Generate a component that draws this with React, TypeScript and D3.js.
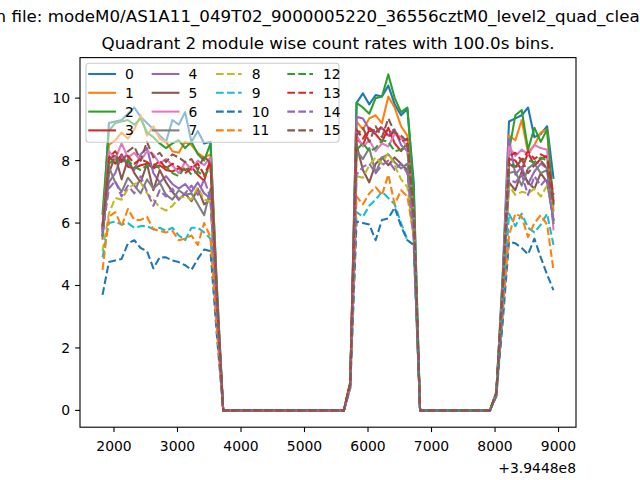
import React from 'react';
import * as d3 from 'd3';

const times = [
  1820, 1920, 2020, 2120, 2220, 2320, 2420, 2520, 2620, 2720, 2820, 2920, 3020, 3120, 3220, 3320, 3420, 3520, 3620,
  3720, 3820, 3920, 4020, 4120, 4220, 4320, 4420, 4520, 4620, 4720, 4820, 4920, 5020, 5120, 5220, 5320, 5420, 5520, 5620,
  5720, 5820, 5920, 6020, 6120, 6220, 6320, 6420, 6520, 6620, 6720,
  6820, 6920, 7020, 7120, 7220, 7320, 7420, 7520, 7620, 7720, 7820, 7920,
  8020, 8120, 8220, 8320, 8420, 8520, 8620, 8720, 8820, 8920,
];

const m0 = [5.8, 9.2, 9.25, 9.3, 9.5, 9.7, 9.4, 9.2, 9.0, 8.8, 8.6, 9.3, 9.15, 9.55, 8.6, 8.95, 8.55, 8.6, 3.9, 0,0,0,0,0,0,0,0,0,0,0,0,0,0,0,0,0,0,0,0, 0.85, 9.85, 10.15, 9.8, 10.1, 10.05, 10.4, 9.8, 9.45, 9.65, 7.3, 0,0,0,0,0,0,0,0,0,0,0,0, 0.55, 4.3, 9.25, 9.35, 9.45, 9.7, 8.75, 8.85, 9.1, 7.45];
const m1 = [5.9, 8.5, 8.65, 8.9, 8.7, 9.0, 9.45, 8.8, 9.1, 8.7, 8.6, 8.3, 8.25, 8.6, 8.5, 8.25, 8.1, 8.2, 3.7, 0,0,0,0,0,0,0,0,0,0,0,0,0,0,0,0,0,0,0,0, 0.9, 9.25, 9.0, 9.35, 9.45, 9.2, 10.05, 9.7, 9.1, 8.8, 6.5, 0,0,0,0,0,0,0,0,0,0,0,0, 0.6, 4.0, 8.8, 8.65, 9.3, 8.25, 8.5, 8.9, 9.0, 6.4];
const m2 = [6.3, 8.95, 9.2, 9.25, 9.3, 9.15, 9.35, 8.9, 8.75, 8.55, 8.4, 8.55, 8.65, 8.4, 8.6, 8.2, 8.0, 8.55, 4.0, 0,0,0,0,0,0,0,0,0,0,0,0,0,0,0,0,0,0,0,0, 0.85, 9.85, 9.7, 9.5, 10.0, 10.05, 10.76, 10.0, 9.55, 9.7, 7.05, 0,0,0,0,0,0,0,0,0,0,0,0, 0.55, 4.2, 8.3, 9.45, 9.62, 8.35, 9.05, 8.6, 9.0, 6.6];
const m3 = [5.6, 8.15, 7.9, 8.2, 7.8, 7.75, 7.85, 7.9, 7.75, 7.85, 7.7, 7.65, 7.75, 7.7, 7.8, 7.55, 7.35, 8.05, 3.5, 0,0,0,0,0,0,0,0,0,0,0,0,0,0,0,0,0,0,0,0, 0.85, 8.7, 8.5, 9.0, 8.85, 8.6, 9.05, 8.55, 8.3, 8.55, 6.2, 0,0,0,0,0,0,0,0,0,0,0,0, 0.55, 3.7, 8.05, 8.0, 7.7, 8.25, 7.85, 8.05, 8.15, 6.7];
const m4 = [5.9, 7.3, 7.6, 8.15, 7.9, 7.7, 8.2, 8.4, 7.6, 7.3, 7.5, 7.25, 7.1, 7.25, 7.0, 7.3, 6.95, 6.8, 3.4, 0,0,0,0,0,0,0,0,0,0,0,0,0,0,0,0,0,0,0,0, 0.85, 9.4, 9.35, 9.0, 8.9, 9.05, 8.8, 9.0, 8.5, 8.3, 6.0, 0,0,0,0,0,0,0,0,0,0,0,0, 0.55, 4.0, 8.7, 7.55, 7.8, 7.25, 7.65, 7.9, 7.75, 6.1];
const m5 = [5.6, 7.6, 8.15, 7.4, 8.05, 7.6, 7.3, 7.9, 7.05, 7.7, 7.3, 7.0, 6.75, 6.95, 6.7, 7.1, 6.6, 6.75, 3.3, 0,0,0,0,0,0,0,0,0,0,0,0,0,0,0,0,0,0,0,0, 0.8, 8.5, 7.7, 7.3, 7.9, 8.1, 7.85, 8.1, 7.9, 7.7, 5.8, 0,0,0,0,0,0,0,0,0,0,0,0, 0.5, 3.6, 7.3, 7.05, 7.65, 7.3, 7.1, 7.6, 7.3, 6.1];
const m6 = [5.9, 8.3, 8.05, 8.55, 8.1, 8.25, 8.0, 8.3, 8.2, 7.9, 8.05, 7.85, 7.6, 7.95, 7.7, 8.0, 7.85, 8.1, 3.6, 0,0,0,0,0,0,0,0,0,0,0,0,0,0,0,0,0,0,0,0, 0.85, 8.8, 8.45, 8.65, 8.3, 8.55, 8.45, 8.85, 8.75, 8.4, 6.3, 0,0,0,0,0,0,0,0,0,0,0,0, 0.55, 3.9, 8.45, 8.15, 8.35, 8.2, 8.5, 8.4, 8.35, 5.8];
const m7 = [5.5, 7.8, 7.3, 7.0, 7.45, 7.2, 6.95, 7.4, 7.1, 7.3, 6.9, 6.75, 7.05, 6.9, 6.95, 6.6, 6.25, 7.1, 3.2, 0,0,0,0,0,0,0,0,0,0,0,0,0,0,0,0,0,0,0,0, 0.8, 8.3, 8.05, 8.4, 7.6, 8.1, 8.2, 7.95, 7.75, 7.9, 5.6, 0,0,0,0,0,0,0,0,0,0,0,0, 0.5, 3.5, 7.6, 7.65, 7.2, 7.75, 7.9, 7.6, 7.7, 6.0];
const m8 = [5.1, 6.3, 6.8, 6.75, 7.1, 7.25, 7.3, 6.95, 6.75, 6.5, 6.4, 6.55, 6.8, 6.85, 6.75, 7.15, 6.75, 6.7, 3.0, 0,0,0,0,0,0,0,0,0,0,0,0,0,0,0,0,0,0,0,0, 0.75, 7.5, 7.45, 7.85, 8.1, 7.9, 8.25, 7.85, 7.4, 7.15, 5.5, 0,0,0,0,0,0,0,0,0,0,0,0, 0.5, 3.4, 7.2, 6.9, 7.0, 6.95, 7.1, 6.85, 7.2, 6.35];
const m9 = [4.9, 6.0, 6.05, 5.95, 6.0, 5.85, 5.9, 5.9, 5.8, 5.85, 5.75, 5.85, 5.6, 5.45, 5.85, 5.85, 5.7, 5.5, 2.7, 0,0,0,0,0,0,0,0,0,0,0,0,0,0,0,0,0,0,0,0, 0.7, 6.35, 6.2, 6.55, 6.75, 7.0, 6.8, 6.6, 6.0, 5.45, 5.3, 0,0,0,0,0,0,0,0,0,0,0,0, 0.45, 3.0, 6.3, 5.9, 6.3, 5.85, 5.7, 5.95, 6.3, 5.3];
const m10 = [3.7, 4.75, 4.8, 4.85, 5.35, 5.45, 5.2, 5.1, 4.55, 4.9, 4.9, 4.8, 4.75, 4.65, 4.5, 4.85, 5.15, 5.1, 2.4, 0,0,0,0,0,0,0,0,0,0,0,0,0,0,0,0,0,0,0,0, 0.7, 6.05, 6.0, 5.95, 5.45, 6.1, 6.15, 6.5, 5.9, 5.45, 5.3, 0,0,0,0,0,0,0,0,0,0,0,0, 0.45, 2.8, 5.4, 5.35, 5.2, 5.0, 5.5, 4.9, 4.35, 3.85];
const m11 = [4.5, 6.2, 6.35, 5.9, 6.45, 6.1, 6.1, 6.2, 5.8, 5.75, 5.7, 5.75, 5.45, 5.5, 5.6, 5.3, 6.0, 5.55, 2.6, 0,0,0,0,0,0,0,0,0,0,0,0,0,0,0,0,0,0,0,0, 0.75, 6.85, 6.6, 6.95, 7.15, 6.9, 7.55, 6.6, 7.05, 6.85, 5.6, 0,0,0,0,0,0,0,0,0,0,0,0, 0.5, 3.2, 5.6, 6.3, 6.2, 5.55, 6.0, 6.25, 5.95, 4.5];
const m12 = [5.7, 7.9, 8.05, 7.95, 8.0, 7.8, 7.7, 7.85, 7.9, 7.75, 7.8, 7.6, 7.5, 7.8, 7.55, 7.65, 7.5, 7.8, 3.5, 0,0,0,0,0,0,0,0,0,0,0,0,0,0,0,0,0,0,0,0, 0.85, 8.35, 8.55, 8.3, 8.4, 8.65, 8.6, 8.3, 8.35, 8.5, 6.1, 0,0,0,0,0,0,0,0,0,0,0,0, 0.55, 3.8, 8.0, 7.8, 8.05, 8.0, 7.95, 8.1, 8.0, 6.8];
const m13 = [5.8, 8.1, 8.3, 8.0, 8.15, 7.9, 8.05, 7.95, 7.8, 8.0, 7.75, 7.9, 7.8, 7.6, 7.75, 7.9, 7.55, 7.95, 3.6, 0,0,0,0,0,0,0,0,0,0,0,0,0,0,0,0,0,0,0,0, 0.9, 9.0, 8.7, 9.05, 8.9, 9.1, 8.75, 8.95, 8.6, 8.7, 6.3, 0,0,0,0,0,0,0,0,0,0,0,0, 0.55, 3.8, 8.15, 8.25, 8.0, 8.3, 8.05, 8.2, 8.1, 6.9];
const m14 = [5.7, 7.1, 7.35, 6.85, 7.2, 6.95, 7.5, 7.0, 6.55, 7.05, 6.85, 7.1, 6.75, 6.95, 7.2, 6.9, 7.4, 6.8, 3.2, 0,0,0,0,0,0,0,0,0,0,0,0,0,0,0,0,0,0,0,0, 0.8, 7.55, 7.8, 7.9, 7.6, 7.85, 8.0, 7.7, 7.9, 7.6, 5.5, 0,0,0,0,0,0,0,0,0,0,0,0, 0.5, 3.5, 7.4, 7.3, 7.55, 6.9, 7.5, 7.2, 7.45, 6.0];
const m15 = [5.9, 8.0, 8.2, 7.9, 8.3, 8.45, 8.0, 8.6, 8.1, 8.25, 7.95, 8.2, 8.1, 7.95, 8.05, 7.7, 8.15, 7.9, 3.7, 0,0,0,0,0,0,0,0,0,0,0,0,0,0,0,0,0,0,0,0, 0.9, 8.8, 9.05, 8.6, 9.1, 8.75, 9.35, 8.9, 8.8, 8.6, 6.4, 0,0,0,0,0,0,0,0,0,0,0,0, 0.55, 3.9, 7.9, 7.75, 8.05, 7.6, 7.85, 8.0, 7.75, 6.6];

const moduleSeries = [m0, m1, m2, m3, m4, m5, m6, m7, m8, m9, m10, m11, m12, m13, m14, m15];
const moduleLabels = ['0', '1', '2', '3', '4', '5', '6', '7', '8', '9', '10', '11', '12', '13', '14', '15'];
const moduleColors = ['#1f77b4', '#ff7f0e', '#2ca02c', '#d62728', '#9467bd', '#8c564b', '#e377c2', '#7f7f7f',
  '#bcbd22', '#17becf', '#1f77b4', '#ff7f0e', '#2ca02c', '#d62728', '#9467bd', '#8c564b'];
const moduleDashed = [false, false, false, false, false, false, false, false, true, true, true, true, true, true, true, true];

const xTicks = [2000, 3000, 4000, 5000, 6000, 7000, 8000, 9000];
const yTicks = [0, 2, 4, 6, 8, 10];
const offsetText = '+3.9448e8';
const titleText = 'Quadrant 2 module wise count rates with 100.0s bins.';
const supTitleText = 'Data in file: modeM0/AS1A11_049T02_9000005220_36556cztM0_level2_quad_clean.evt';

const W = 640, H = 480;
const L = 80, R = 576, T = 57.6, B = 427.2;
const FONT = 'DejaVu Sans, sans-serif';

export default function App() {
  const xExt = d3.extent(times) as [number, number];
  const allVals = moduleSeries.flat();
  const yExt = [d3.min(allVals)!, d3.max(allVals)!];
  const xPad = (xExt[1] - xExt[0]) * 0.05;
  const yPad = (yExt[1] - yExt[0]) * 0.05;
  const x = d3.scaleLinear().domain([xExt[0] - xPad, xExt[1] + xPad]).range([L, R]);
  const y = d3.scaleLinear().domain([yExt[0] - yPad, yExt[1] + yPad]).range([B, T]);

  const line = d3.line<number>().x((_, i) => x(times[i])).y((d) => y(d));

  const lw = 2.08;
  const dash = '7.7,3.3';

  // legend layout
  const fs = 13.9;
  const colHandleX = [89.3, 152.7, 216, 287.3];
  const handleLen = 25.7;
  const textGap = 10;
  const rowY0 = 74, rowPitch = 18.8;

  return (
    <svg width={W} height={H} style={{ position: 'absolute', left: 0, top: 0, background: '#fff' }} fontFamily={FONT}>
      <defs>
        <clipPath id="axclip">
          <rect x={L} y={T} width={R - L} height={B - T} />
        </clipPath>
      </defs>
      <rect x={0} y={0} width={W} height={H} fill="#fff" />
      <text x={W / 2 - 6} y={22} textAnchor="middle" fontSize={16.7} fill="#000">{supTitleText}</text>
      <text x={(L + R) / 2} y={49.3} textAnchor="middle" fontSize={16.7} fill="#000">{titleText}</text>

      <g clipPath="url(#axclip)">
        {moduleSeries.map((s, i) => (
          <path key={i} d={line(s) || ''} fill="none" stroke={moduleColors[i]} strokeWidth={lw}
            strokeDasharray={moduleDashed[i] ? dash : undefined}
            strokeLinejoin="round" strokeLinecap={moduleDashed[i] ? 'butt' : 'square'} />
        ))}
      </g>

      {/* axes frame */}
      <rect x={L} y={T} width={R - L} height={B - T} fill="none" stroke="#000" strokeWidth={1.1} />

      {xTicks.map((t) => (
        <g key={t}>
          <line x1={x(t)} x2={x(t)} y1={B} y2={B + 4.9} stroke="#000" strokeWidth={1.1} />
          <text x={x(t)} y={B + 23.5} textAnchor="middle" fontSize={fs} fill="#000">{t}</text>
        </g>
      ))}
      {yTicks.map((t) => (
        <g key={t}>
          <line x1={L - 4.9} x2={L} y1={y(t)} y2={y(t)} stroke="#000" strokeWidth={1.1} />
          <text x={L - 9.8} y={y(t) + 5} textAnchor="end" fontSize={fs} fill="#000">{t}</text>
        </g>
      ))}
      <text x={R} y={473} textAnchor="end" fontSize={fs} fill="#000">{offsetText}</text>

      {/* legend */}
      <rect x={86} y={63.3} width={253} height={79} rx={3} ry={3} fill="#fff" fillOpacity={0.5}
        stroke="#cccccc" strokeWidth={1.1} />
      {moduleLabels.map((lab, i) => {
        const col = Math.floor(i / 4);
        const row = i % 4;
        const hx = colHandleX[col];
        const yy = rowY0 + row * rowPitch;
        return (
          <g key={lab}>
            <line x1={hx} x2={hx + handleLen} y1={yy} y2={yy} stroke={moduleColors[i]} strokeWidth={lw}
              strokeDasharray={moduleDashed[i] ? dash : undefined} strokeLinecap={moduleDashed[i] ? 'butt' : 'square'} />
            <text x={hx + handleLen + textGap} y={yy + 5} fontSize={fs} fill="#000">{lab}</text>
          </g>
        );
      })}
    </svg>
  );
}
